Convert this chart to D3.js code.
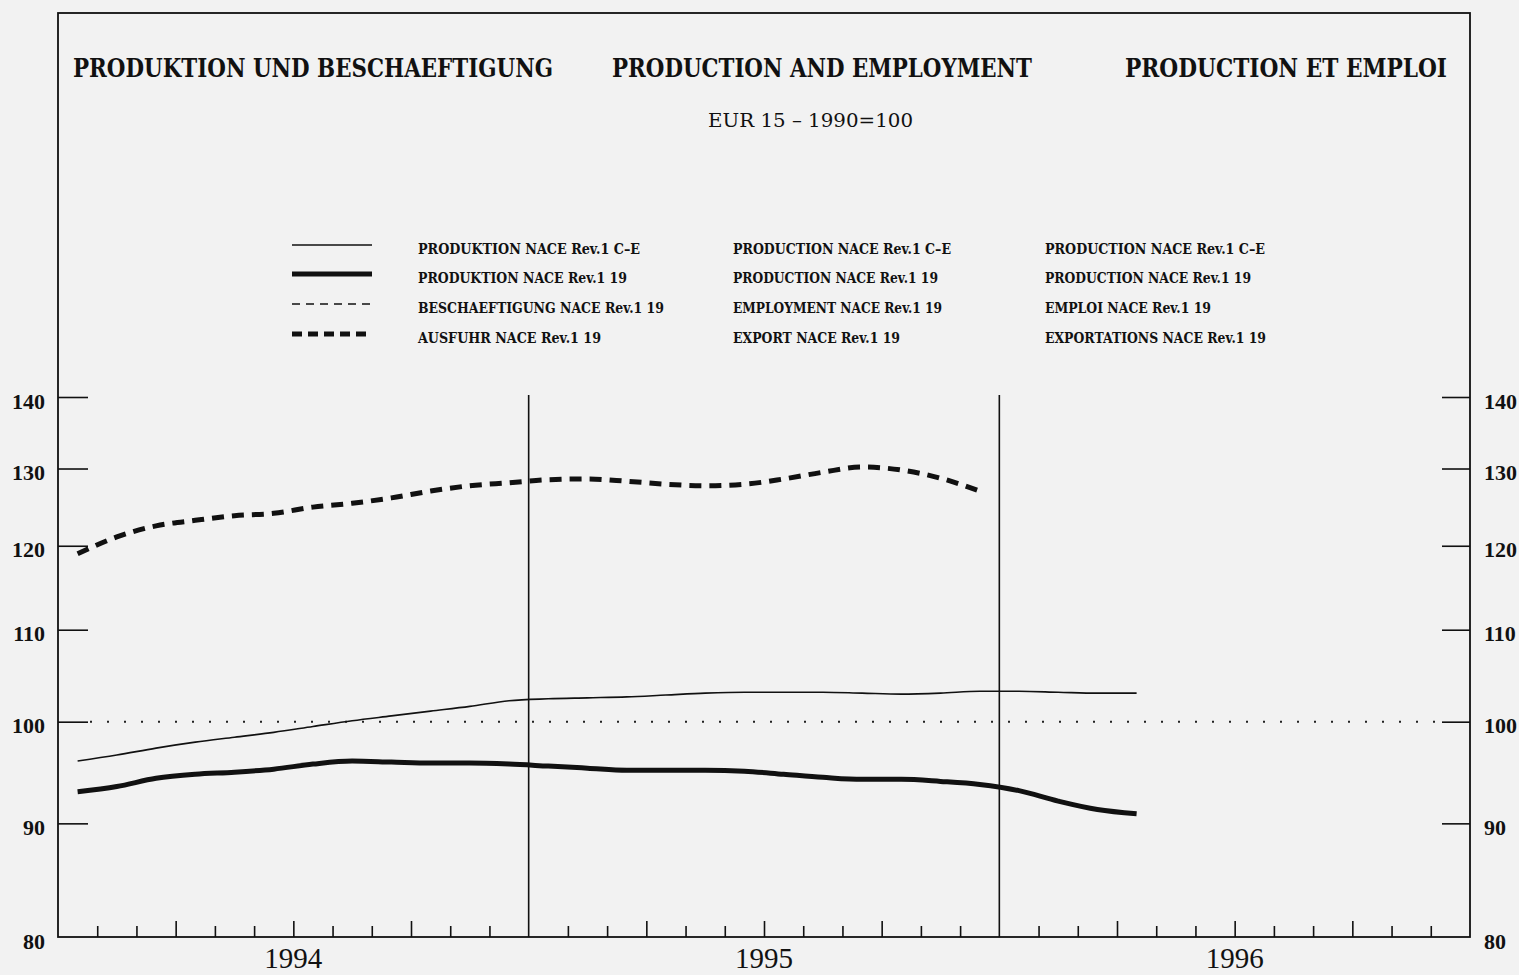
<!DOCTYPE html>
<html>
<head>
<meta charset="utf-8">
<script src="https://cdn.jsdelivr.net/npm/d3@7"></script>
<style>
  html, body { margin: 0; padding: 0; background: #f2f2f2; }
  svg { display: block; }
</style>
</head>
<body>
<svg id="chart" width="1519" height="975"></svg>
<script>
// ---- data: EUR 15, index 1990 = 100, monthly ----
const months = [
  "1994-01","1994-02","1994-03","1994-04","1994-05","1994-06",
  "1994-07","1994-08","1994-09","1994-10","1994-11","1994-12",
  "1995-01","1995-02","1995-03","1995-04","1995-05","1995-06",
  "1995-07","1995-08","1995-09","1995-10","1995-11","1995-12",
  "1996-01","1996-02","1996-03","1996-04"
];
// Production NACE Rev.1 C-E
const prodCE = [
  96.0, 96.6, 97.3, 97.9, 98.4, 98.9, 99.5, 100.1, 100.6, 101.1, 101.6, 102.2,
  102.4, 102.5, 102.6, 102.8, 103.0, 103.1, 103.1, 103.1, 103.0, 102.9, 103.0, 103.2,
  103.2, 103.1, 103.0, 103.0
];
// Production NACE Rev.1 19
const prod19 = [
  93.0, 93.5, 94.3, 94.7, 94.9, 95.2, 95.7, 96.0, 95.9, 95.8, 95.8, 95.7,
  95.5, 95.3, 95.1, 95.1, 95.1, 95.0, 94.7, 94.4, 94.2, 94.2, 94.0, 93.7,
  93.1, 92.1, 91.3, 90.9
];
// Employment NACE Rev.1 19 (no observations in this period)
const employment19 = [];
// Export NACE Rev.1 19
const export19 = [
  119.0, 121.1, 122.5, 123.2, 123.8, 124.1, 124.9, 125.4, 126.1, 127.0, 127.7, 128.1,
  128.5, 128.6, 128.3, 127.9, 127.7, 127.9, 128.6, 129.5, 130.2, 129.8, 128.7, 127.0
];
const yTicks = [80, 90, 100, 110, 120, 130, 140];
const referenceLevel = 100;
const years = ["1994", "1995", "1996"];

const titles = ["PRODUKTION UND BESCHAEFTIGUNG", "PRODUCTION AND EMPLOYMENT", "PRODUCTION ET EMPLOI"];
const subtitle = "EUR  15  \u2013  1990=100";
const legendDe = ["PRODUKTION NACE Rev.1 C\u2013E", "PRODUKTION NACE Rev.1 19", "BESCHAEFTIGUNG NACE Rev.1 19", "AUSFUHR NACE Rev.1 19"];
const legendEn = ["PRODUCTION NACE Rev.1 C\u2013E", "PRODUCTION NACE Rev.1 19", "EMPLOYMENT NACE Rev.1 19", "EXPORT NACE Rev.1 19"];
const legendFr = ["PRODUCTION NACE Rev.1 C\u2013E", "PRODUCTION NACE Rev.1 19", "EMPLOI NACE Rev.1 19", "EXPORTATIONS NACE Rev.1 19"];

(function draw() {
  const svg = d3.select("#chart");
  const fLeft = 58, fRight = 1470, fTop = 13, fBottom = 937, yTop = 397;
  const serifBold = "'DejaVu Serif', 'Liberation Serif', serif";
  const serif = "'Liberation Serif', 'DejaVu Serif', serif";

  // month index 0 = Jan 1994; three years across the frame
  const x = d3.scaleLinear().domain([0, 36]).range([fLeft, fRight]);
  const y = d3.scaleLog().domain([80, 140]).range([fBottom, yTop]);
  const monthIndex = s => (+s.slice(0, 4) - 1994) * 12 + (+s.slice(5, 7) - 1);

  // frame
  svg.append("rect")
    .attr("x", fLeft).attr("y", fTop)
    .attr("width", fRight - fLeft).attr("height", fBottom - fTop)
    .attr("fill", "none").attr("stroke", "#111").attr("stroke-width", 1.8);

  // titles
  const titleLayout = [{x: 73, w: 480}, {x: 612, w: 420}, {x: 1125, w: 322}];
  svg.selectAll("text.title").data(titles).join("text")
    .attr("class", "title")
    .attr("x", (d, i) => titleLayout[i].x).attr("y", 77)
    .attr("textLength", (d, i) => titleLayout[i].w)
    .attr("lengthAdjust", "spacingAndGlyphs")
    .attr("font-family", serifBold).attr("font-weight", "bold")
    .attr("font-size", 26).attr("fill", "#111")
    .text(d => d);

  svg.append("text")
    .attr("x", 708).attr("y", 127)
    .attr("textLength", 205).attr("lengthAdjust", "spacingAndGlyphs")
    .attr("font-family", "'DejaVu Serif', serif")
    .attr("font-size", 18).attr("fill", "#111")
    .text(subtitle);

  // legend
  const legendStyles = [
    {w: 1.5, dash: null},
    {w: 5, dash: null},
    {w: 1.5, dash: "8,6"},
    {w: 5, dash: "10,6"}
  ];
  const rowY = [245, 274, 304, 334];
  const legendG = svg.append("g");
  legendG.selectAll("line").data(legendStyles).join("line")
    .attr("x1", 292).attr("x2", 372)
    .attr("y1", (d, i) => rowY[i]).attr("y2", (d, i) => rowY[i])
    .attr("stroke", "#111").attr("stroke-width", d => d.w)
    .attr("stroke-dasharray", d => d.dash);

  const legendCols = [
    {x: 418, items: legendDe, w: [222, 209, 246, 183]},
    {x: 733, items: legendEn, w: [218, 205, 209, 167]},
    {x: 1045, items: legendFr, w: [220, 206, 166, 221]}
  ];
  legendCols.forEach(col => {
    legendG.append("g").selectAll("text").data(col.items).join("text")
      .attr("x", col.x).attr("y", (d, i) => rowY[i] + 9)
      .attr("textLength", (d, i) => col.w[i])
      .attr("lengthAdjust", "spacingAndGlyphs")
      .attr("font-family", serifBold).attr("font-weight", "bold")
      .attr("font-size", 15).attr("fill", "#111")
      .text(d => d);
  });

  // y axes (log scale), ticks pointing into the plot
  const yLeft = d3.axisLeft(y).tickValues(yTicks).tickFormat(d3.format("d"))
    .tickSizeInner(-30).tickSizeOuter(0).tickPadding(13);
  const yRight = d3.axisRight(y).tickValues(yTicks).tickFormat(d3.format("d"))
    .tickSizeInner(-28).tickSizeOuter(0).tickPadding(14);

  function styleAxis(g) {
    g.select(".domain").remove();
    g.selectAll(".tick line").attr("stroke", "#111").attr("stroke-width", 1.6);
    g.selectAll(".tick text")
      .attr("font-family", serif).attr("font-weight", "bold")
      .attr("font-size", 22).attr("fill", "#111").attr("dy", "0.5em");
    g.selectAll(".tick").filter(d => d === 80).select("line").remove();
  }
  svg.append("g").attr("transform", `translate(${fLeft},0)`).call(yLeft).call(styleAxis);
  svg.append("g").attr("transform", `translate(${fRight},0)`).call(yRight).call(styleAxis);

  // x axis: monthly ticks, taller at quarters, full lines at year boundaries
  const monthTicks = d3.range(1, 36).filter(m => m % 12 !== 0 && m % 3 !== 0);
  const quarterTicks = d3.range(1, 36).filter(m => m % 12 !== 0 && m % 3 === 0);
  function styleX(g) {
    g.select(".domain").remove();
    g.selectAll(".tick line").attr("stroke", "#111").attr("stroke-width", 1.6);
    g.selectAll(".tick text").remove();
  }
  svg.append("g").attr("transform", `translate(0,${fBottom})`)
    .call(d3.axisBottom(x).tickValues(monthTicks).tickSizeInner(-11).tickSizeOuter(0))
    .call(styleX);
  svg.append("g").attr("transform", `translate(0,${fBottom})`)
    .call(d3.axisBottom(x).tickValues(quarterTicks).tickSizeInner(-16).tickSizeOuter(0))
    .call(styleX);

  // year boundary lines
  svg.selectAll("line.yearline").data([12, 24]).join("line")
    .attr("class", "yearline")
    .attr("x1", d => x(d)).attr("x2", d => x(d))
    .attr("y1", y(140) - 2).attr("y2", fBottom)
    .attr("stroke", "#111").attr("stroke-width", 1.6);

  // year labels centred on each year
  svg.selectAll("text.year").data(years).join("text")
    .attr("class", "year")
    .attr("x", d => x((+d - 1994) * 12 + 6)).attr("y", 968)
    .attr("text-anchor", "middle")
    .attr("font-family", serif).attr("font-size", 29).attr("fill", "#111")
    .text(d => d);

  // reference level 100
  svg.append("line")
    .attr("x1", fLeft + 32).attr("x2", fRight - 28)
    .attr("y1", y(referenceLevel)).attr("y2", y(referenceLevel))
    .attr("stroke", "#222").attr("stroke-width", 2)
    .attr("stroke-dasharray", "2,15");

  // series
  const line = d3.line()
    .x(d => x(monthIndex(d.m) + 0.5))
    .y(d => y(d.v))
    .curve(d3.curveMonotoneX);
  const toPoints = vals => vals.map((v, i) => ({m: months[i], v}));

  const series = [
    {vals: prodCE, w: 1.6, dash: null},
    {vals: prod19, w: 5, dash: null},
    {vals: employment19, w: 1.6, dash: "8,6"},
    {vals: export19, w: 5, dash: "12,8"}
  ];
  svg.append("g").selectAll("path").data(series.filter(s => s.vals.length)).join("path")
    .attr("d", s => line(toPoints(s.vals)))
    .attr("fill", "none").attr("stroke", "#111")
    .attr("stroke-width", s => s.w)
    .attr("stroke-dasharray", s => s.dash)
    .attr("stroke-linecap", "butt").attr("stroke-linejoin", "round");
})();
</script>
</body>
</html>
